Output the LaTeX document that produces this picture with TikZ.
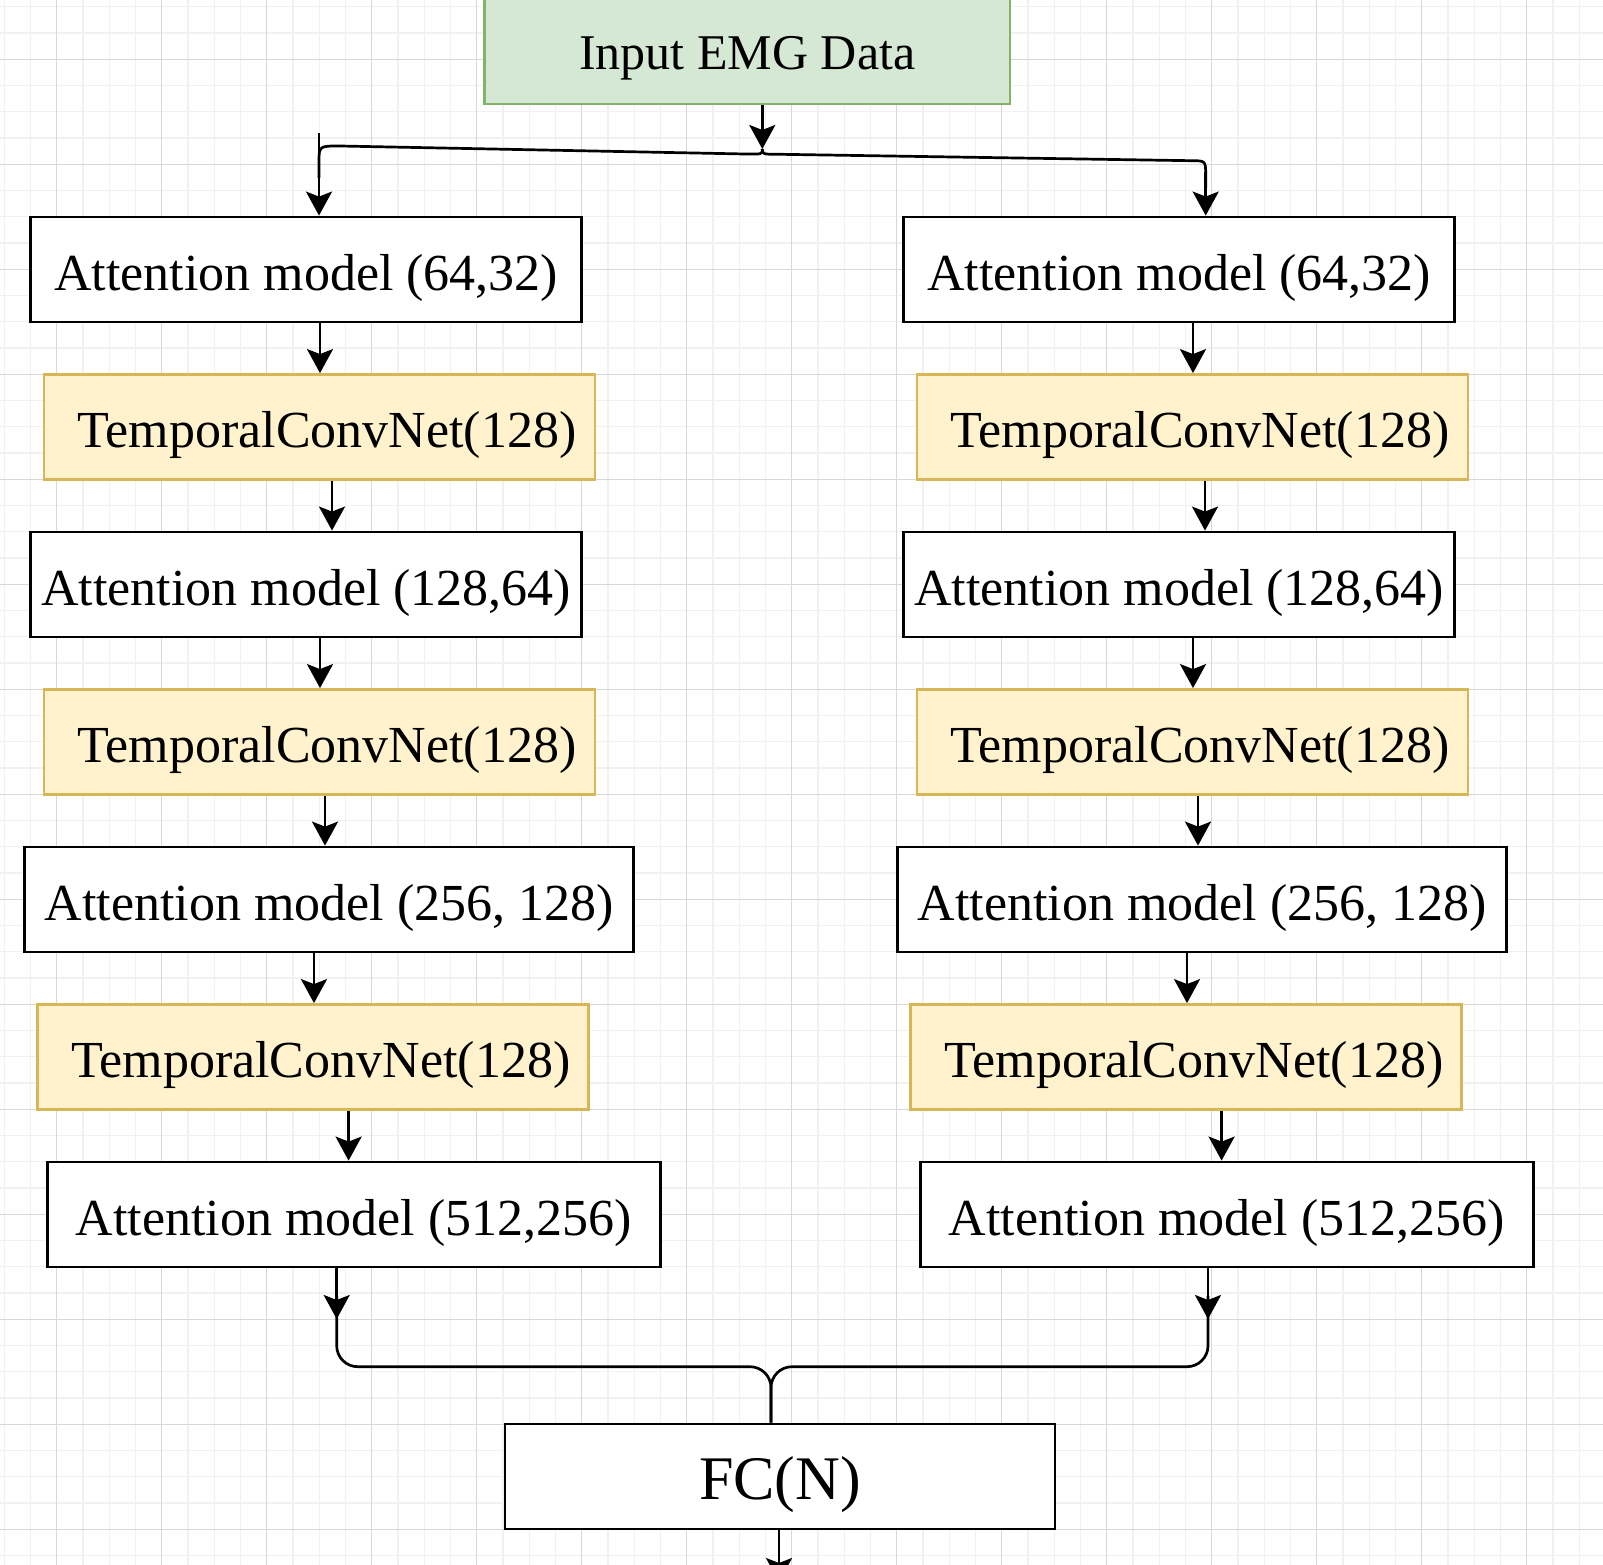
\documentclass[tikz,border=0pt]{standalone}
\usepackage{fontspec}
\setmainfont{Liberation Serif}
\usetikzlibrary{arrows.meta}
\definecolor{gfill}{HTML}{D5E8D4}
\definecolor{gline}{HTML}{82B366}
\definecolor{yfill}{HTML}{FFF2CC}
\definecolor{yline}{HTML}{D6B656}
\definecolor{gridminor}{HTML}{F1F1F1}
\definecolor{gridmajor}{HTML}{D8D8D8}
\begin{document}
\begin{tikzpicture}[x=1pt,y=-1pt,
  box/.style={draw, line width=2.8pt, minimum height=105pt, inner sep=0pt,
    text height=52pt, text depth=11pt, font=\fontsize{52}{60}\selectfont},
  att/.style={box, fill=white, draw=black},
  tcn/.style={box, fill=yfill, draw=yline},
  conn/.style={line width=2.7pt, draw=black},
  arr/.style={conn, -{Stealth[length=24pt,width=26pt,inset=5pt]}},
  gmin/.style={draw=gridminor, line width=1.2pt},
  gmaj/.style={draw=gridmajor, line width=1.2pt}
]
\useasboundingbox (0,0) rectangle (1603,1565);
\fill[white] (0,0) rectangle (1603,1565);
% grid
\foreach \i in {0,...,61} \draw[gmin] ({4.2+26.25*\i},0) -- ({4.2+26.25*\i},1565);
\foreach \i in {0,...,59} \draw[gmin] (0,{6.8+26.25*\i}) -- (1603,{6.8+26.25*\i});
\foreach \i in {0,...,15} \draw[gmaj] ({56.7+105*\i},0) -- ({56.7+105*\i},1565);
\foreach \i in {0,...,14} \draw[gmaj] (0,{59.3+105*\i}) -- (1603,{59.3+105*\i});

% input
\node[box, fill=gfill, draw=gline, minimum width=525.5pt, text height=47pt,
  font=\fontsize{50}{58}\selectfont] (In) at (747.3,51.5) {Input EMG Data};

% left column
\node[att, minimum width=551pt] (A1L) at (306.2,269.5) {Attention model (64,32)};
\node[tcn, minimum width=551pt] (T1L) at (319.5,427) {\hspace*{15pt}TemporalConvNet(128)};
\node[att, minimum width=551pt] (A2L) at (306.2,584.5) {Attention model (128,64)};
\node[tcn, minimum width=551pt] (T2L) at (319.5,742) {\hspace*{15pt}TemporalConvNet(128)};
\node[att, minimum width=609pt] (A3L) at (329.2,899.5) {Attention model (256, 128)};
\node[tcn, minimum width=551pt] (T3L) at (313.3,1057) {\hspace*{15pt}TemporalConvNet(128)};
\node[att, minimum width=613pt] (A4L) at (353.7,1214.5) {Attention model (512,256)};

% right column
\node[att, minimum width=551pt] (A1R) at (1179.2,269.5) {Attention model (64,32)};
\node[tcn, minimum width=551pt] (T1R) at (1192.5,427) {\hspace*{15pt}TemporalConvNet(128)};
\node[att, minimum width=551pt] (A2R) at (1179.2,584.5) {Attention model (128,64)};
\node[tcn, minimum width=551pt] (T2R) at (1192.5,742) {\hspace*{15pt}TemporalConvNet(128)};
\node[att, minimum width=609pt] (A3R) at (1202.2,899.5) {Attention model (256, 128)};
\node[tcn, minimum width=551pt] (T3R) at (1186.3,1057) {\hspace*{15pt}TemporalConvNet(128)};
\node[att, minimum width=613pt] (A4R) at (1226.7,1214.5) {Attention model (512,256)};

% FC
\node[att, minimum width=550pt, text height=57pt, font=\fontsize{62}{70}\selectfont]
  (FC) at (780,1476.5) {FC(N)};

% x positions of vertical connectors
\coordinate (cL1) at (320,0);   \coordinate (cR1) at (1193,0);
\coordinate (cL2) at (332,0);   \coordinate (cR2) at (1205,0);
\coordinate (cL3) at (320,0);   \coordinate (cR3) at (1193,0);
\coordinate (cL4) at (325,0);   \coordinate (cR4) at (1198,0);
\coordinate (cL5) at (314,0);   \coordinate (cR5) at (1187,0);
\coordinate (cL6) at (348.6,0); \coordinate (cR6) at (1221.6,0);
\coordinate (cL7) at (336.7,0); \coordinate (cR7) at (1208,0);
\coordinate (cS) at (319,0);    \coordinate (cT) at (1205.7,0);
\coordinate (cM) at (771,0);    \coordinate (cF) at (779,0);

% top split
\coordinate (J) at (762.3,149);
\draw[arr] (In.south -| J) -- (J);
\draw[conn] (J) .. controls (762.3,154.3) .. (745,154) -- (340,146)
  .. controls (319,146) .. (319,162) -- (319,178);
\draw[arr] (319,133) coordinate (sL) -- (A1L.north -| cS);
\draw[conn] (J) .. controls (762.3,154.3) .. (780,154.3) -- (1191,160.7)
  .. controls (1205.7,160.7) .. (1205.7,176) -- (1205.7,188);
\draw[arr] (1205.7,172) coordinate (sR) -- (A1R.north -| cT);

% left chain
\draw[arr] (A1L.south -| cL1) -- (T1L.north -| cL1);
\draw[arr] (T1L.south -| cL2) -- (A2L.north -| cL2);
\draw[arr] (A2L.south -| cL3) -- (T2L.north -| cL3);
\draw[arr] (T2L.south -| cL4) -- (A3L.north -| cL4);
\draw[arr] (A3L.south -| cL5) -- (T3L.north -| cL5);
\draw[arr] (T3L.south -| cL6) -- (A4L.north -| cL6);

% right chain
\draw[arr] (A1R.south -| cR1) -- (T1R.north -| cR1);
\draw[arr] (T1R.south -| cR2) -- (A2R.north -| cR2);
\draw[arr] (A2R.south -| cR3) -- (T2R.north -| cR3);
\draw[arr] (T2R.south -| cR4) -- (A3R.north -| cR4);
\draw[arr] (A3R.south -| cR5) -- (T3R.north -| cR5);
\draw[arr] (T3R.south -| cR6) -- (A4R.north -| cR6);

% merge
\coordinate (mL) at (336.7,1319);
\coordinate (mR) at (1208,1319);
\draw[arr] (A4L.south -| cL7) -- (mL);
\draw[arr] (A4R.south -| cR7) -- (mR);
\draw[conn, rounded corners=21pt] (336.7,1296) -- (336.7,1366.7) -- (771,1366.7) -- (FC.north -| cM);
\draw[conn, rounded corners=21pt] (1208,1296) -- (1208,1366.7) -- (771,1366.7) -- (FC.north -| cM);

% output
\coordinate (Out) at (779,1582);
\draw[arr] (FC.south -| cF) -- (Out);
\end{tikzpicture}
\end{document}
